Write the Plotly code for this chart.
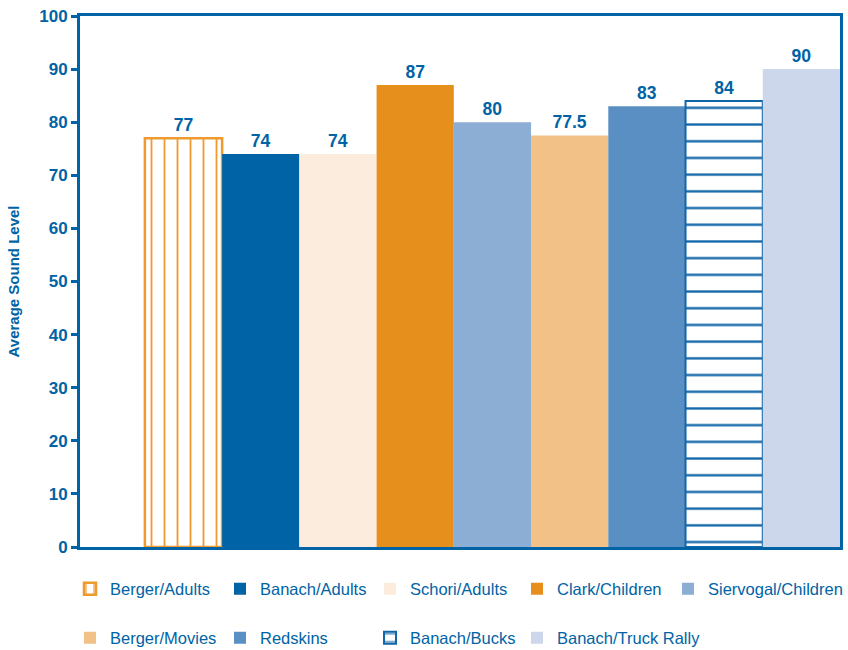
import plotly.graph_objects as go

categories = ["Berger/Adults", "Banach/Adults", "Schori/Adults", "Clark/Children",
              "Siervogal/Children", "Berger/Movies", "Redskins", "Banach/Bucks",
              "Banach/Truck Rally"]
values = [77, 74, 74, 87, 80, 77.5, 83, 84, 90]
labels = ["77", "74", "74", "87", "80", "77.5", "83", "84", "90"]
colors = ["#FFFFFF", "#0063A5", "#FBECDD", "#E68F1C", "#8CADD4", "#F1C188",
          "#5A8FC3", "#FFFFFF", "#CCD7EB"]
patterns = ["|", "", "", "", "", "", "", "-", ""]
pattern_fg = ["#EE9A2E", None, None, None, None, None, None, "#1166A8", None]
line_colors = ["#EE9A2E", "#0063A5", "#FBECDD", "#E68F1C", "#8CADD4", "#F1C188",
               "#5A8FC3", "#1166A8", "#CCD7EB"]
line_widths = [2.5, 0, 0, 0, 0, 0, 0, 2, 0]
y_ticks = [0, 10, 20, 30, 40, 50, 60, 70, 80, 90, 100]

# legend grid (pixel left edge of each entry, row centre)
legend_left_px = [70, 220, 370, 517, 668, 70, 220, 370, 517]
legend_row_px = [589, 589, 589, 589, 589, 638, 638, 638, 638]

BLUE = "#0063A5"
FONT = "Liberation Sans, Arial, sans-serif"
ML, MR, MT, MB = 80, 8, 16, 103
W, H = 848, 650
PW, PH = W - ML - MR, H - MT - MB

fig = go.Figure()
legend_layout = {}
for i, (cat, v) in enumerate(zip(categories, values)):
    marker = dict(color=colors[i], line=dict(color=line_colors[i], width=line_widths[i]))
    if patterns[i]:
        marker["pattern"] = dict(shape=patterns[i], fgcolor=pattern_fg[i],
                                 bgcolor="#FFFFFF",
                                 size=13 if patterns[i] == "|" else 16.7,
                                 solidity=0.14, fillmode="replace")
    lname = "legend" if i == 0 else f"legend{i + 1}"
    fig.add_trace(go.Bar(
        x=[i], y=[v], width=[1], name=cat, marker=marker,
        text=[labels[i]], textposition="outside", cliponaxis=False,
        textfont=dict(color=BLUE, size=17.5, family=FONT, weight="bold"),
        legend=lname,
        hoverinfo="skip",
    ))
    legend_layout[lname] = dict(
        orientation="h",
        x=(legend_left_px[i] - ML) / PW, xanchor="left",
        y=-(legend_row_px[i] - (MT + PH)) / PH, yanchor="middle",
        font=dict(size=16.5, color=BLUE, family=FONT),
        bgcolor="rgba(0,0,0,0)",
    )

fig.update_layout(
    width=W, height=H,
    margin=dict(l=ML, r=MR, t=MT, b=MB, autoexpand=False),
    plot_bgcolor="white", paper_bgcolor="white",
    barmode="overlay",
    font=dict(family=FONT, color=BLUE),
    showlegend=True,
    **legend_layout,
)
fig.update_xaxes(range=[-1.34, 8.5], showticklabels=False, ticks="",
                 showgrid=False, zeroline=False, showline=True, mirror=True,
                 linecolor=BLUE, linewidth=3)
fig.update_yaxes(range=[0, 100], tickvals=y_ticks, ticks="outside", ticklen=6,
                 tickwidth=3, tickcolor=BLUE, showgrid=False, zeroline=False,
                 showline=True, mirror=True, linecolor=BLUE, linewidth=3,
                 tickfont=dict(size=17, color=BLUE, family=FONT, weight="bold"),
                 title=dict(text="Average Sound Level",
                            font=dict(size=15, color=BLUE, family=FONT, weight="bold"),
                            standoff=16))

fig.write_html("out.html")
